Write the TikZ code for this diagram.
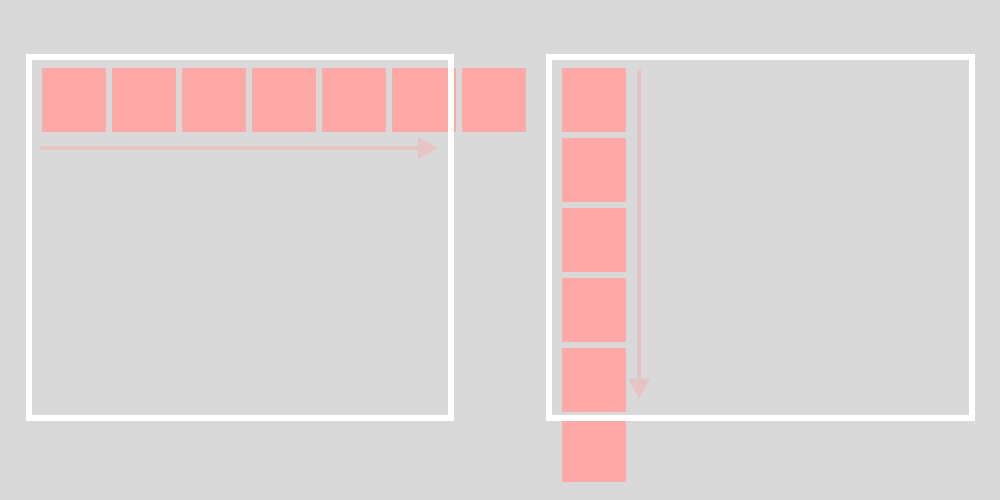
\documentclass[tikz,border=0pt]{standalone}
\usetikzlibrary{arrows.meta}
\definecolor{bg}{HTML}{D9D9D9}
\definecolor{sqcol}{HTML}{FFA8A8}
\definecolor{arrcol}{HTML}{E6C4C4}
\begin{document}
\begin{tikzpicture}[x=0.1mm,y=-0.1mm,
  sq/.style={fill=sqcol,minimum size=6.4mm,inner sep=0pt,outer sep=0pt},
  frame/.style={draw=white,line width=0.6mm},
  flow/.style={draw=arrcol,line width=0.4mm,-{Triangle[length=2mm,width=2mm]}}]
\fill[bg] (0,0) rectangle (1000,500);
\useasboundingbox (0,0) rectangle (1000,500);
% horizontal row
\foreach \i in {0,...,6}{
  \node[sq] (h\i) at ({74+70*\i},100) {};
}
% vertical column
\foreach \i in {0,...,5}{
  \node[sq] (v\i) at (594,{100+70*\i}) {};
}
% arrows
\coordinate (ha) at (40,148);
\coordinate (hb) at (438,148);
\coordinate (va) at (639,69);
\coordinate (vb) at (639,399);
\draw[flow] (ha) -- (hb);
\draw[flow] (va) -- (vb);
% frames
\draw[frame] (29,57) rectangle (451,418);
\draw[frame] (549,57) rectangle (972,418);
\end{tikzpicture}
\end{document}
